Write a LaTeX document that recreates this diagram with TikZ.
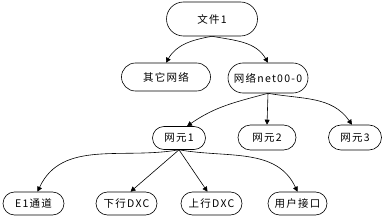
\documentclass[tikz,border=0pt]{standalone}
\usepackage{fontspec}
\setmainfont{Noto Sans CJK SC}[LetterSpace=12]
\usepackage{tikz}
\usetikzlibrary{shapes,arrows.meta,positioning}

\begin{document}
\begin{tikzpicture}[x=1pt, y=1pt, line width=0.6pt,
                    box/.style={draw, rounded rectangle, inner sep=1pt, font=\fontsize{10.5}{12}\selectfont},
                    link/.style={-{Triangle[length=5pt,width=5pt]}}]
                    \useasboundingbox (0,0) rectangle (386,220);
                    \node[box, minimum width=93pt, minimum height=34pt] (file) at (212,201) {文件1};
                    \node[box, minimum width=91pt, minimum height=28pt] (other) at (166,143) {其它网络};
                    \node[box, minimum width=82pt, minimum height=30pt] (net) at (268,142) {网络net00-0};
                    \node[box, minimum width=55pt, minimum height=23pt] (ne1) at (179,82) {网元1};
                    \node[box, minimum width=60pt, minimum height=25pt] (ne2) at (267,82.5) {网元2};
                    \node[box, minimum width=55pt, minimum height=25pt] (ne3) at (355,82.5) {网元3};
                    \node[box, minimum width=63pt, minimum height=23pt] (e1) at (33.5,16.5) {E1通道};
                    \node[box, minimum width=63pt, minimum height=23pt] (down) at (126.5,16.5) {下行DXC};
                    \node[box, minimum width=63pt, minimum height=23pt] (up) at (211.5,16.5) {上行DXC};
                    \node[box, minimum width=61pt, minimum height=23pt] (user) at (297.5,16.5) {用户接口};
                    \draw[link] (file.south) to[out=190, in=60] (other.north);
                    \draw[link] (file.south) to[out=-10, in=120] (net.north);
                    \draw[link] (net.south) to[out=195, in=35] ([xshift=8pt]ne1.north);
                    \draw[link] (net.south) -- (ne2.north);
                    \draw[link] (net.south) to[out=-10, in=125] ([xshift=-3pt]ne3.north);
                    \draw[link] (ne1.south) to[out=190, in=65] ([xshift=4pt]e1.north);
                    \draw[link] (ne1.south) -- ([xshift=4pt]down.north);
                    \draw[link] (ne1.south) -- ([xshift=-4pt]up.north);
                    \draw[link] (ne1.south) to[out=-10, in=115] (user.north);
                \end{tikzpicture}
\end{document}
